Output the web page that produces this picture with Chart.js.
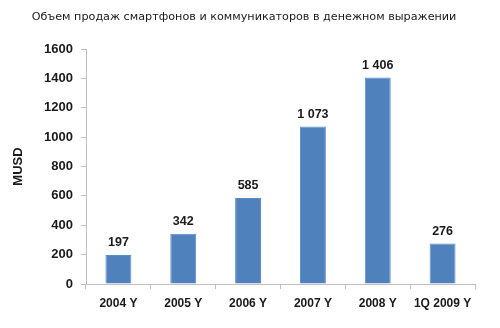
<!DOCTYPE html>
<html>
<head>
<meta charset="utf-8">
<script src="https://cdn.jsdelivr.net/npm/chart.js@4/dist/chart.umd.min.js"></script>
<style>
  html, body { margin: 0; padding: 0; background: #fff; }
  #wrap { width: 500px; height: 328px; }
</style>
</head>
<body>
<div id="wrap"><canvas id="sales-chart" width="500" height="328"></canvas></div>
<script>
// ── Data ──────────────────────────────────────────────
const categories = ['2004 Y', '2005 Y', '2006 Y', '2007 Y', '2008 Y', '1Q 2009 Y'];
const salesMusd  = [197, 342, 585, 1073, 1406, 276];
const yTicks     = [0, 200, 400, 600, 800, 1000, 1200, 1400, 1600];

const titleText = 'Объем продаж смартфонов и коммуникаторов в денежном выражении';
const axisCol   = '#bfbfbf';
const textCol   = '#1a1a1a';
const barCol    = '#4f81bd';
const boldFont  = '"Liberation Sans", Arial, sans-serif';

function formatThousands(v) {
  return String(v).replace(/\B(?=(\d{3})+(?!\d))/g, ' ');
}

// chart title, centred on the whole canvas (the plot is shifted left)
const chartTitle = {
  id: 'chartTitle',
  afterDraw(chart) {
    const ctx = chart.ctx;
    ctx.save();
    ctx.font = '11.2px "DejaVu Sans", Verdana, sans-serif';
    ctx.fillStyle = textCol;
    ctx.textAlign = 'center';
    ctx.textBaseline = 'middle';
    ctx.fillText(titleText, 244, 17);
    ctx.restore();
  }
};

// draws the value above every bar
const valueLabels = {
  id: 'valueLabels',
  afterDatasetsDraw(chart) {
    const ctx = chart.ctx;
    const meta = chart.getDatasetMeta(0);
    ctx.save();
    ctx.font = 'bold 12.5px ' + boldFont;
    ctx.fillStyle = textCol;
    ctx.textAlign = 'center';
    ctx.textBaseline = 'bottom';
    meta.data.forEach(function(bar, i) {
      ctx.fillText(formatThousands(salesMusd[i]), bar.x, bar.y - 6);
    });
    ctx.restore();
  }
};

new Chart(document.getElementById('sales-chart'), {
  type: 'bar',
  data: {
    labels: categories,
    datasets: [{
      data: salesMusd,
      backgroundColor: barCol,
      borderColor: '#5b8cc6',
      borderWidth: 1,
      barPercentage: 0.4,
      categoryPercentage: 1,
    }]
  },
  plugins: [valueLabels, chartTitle],
  options: {
    responsive: false,
    animation: false,
    layout: { padding: { top: 49, left: 0, right: 25, bottom: 0 } },
    plugins: {
      legend: { display: false },
      tooltip: { enabled: false },
      title: { display: false },
    },
    scales: {
      x: {
        grid: { drawOnChartArea: false, drawTicks: true, tickLength: 5, color: axisCol },
        border: { color: axisCol },
        ticks: {
          color: textCol,
          padding: 7,
          maxRotation: 0,
          autoSkip: false,
          font: { family: boldFont, size: 12, weight: 'bold' },
        },
        afterFit: function(scale) { scale.height = 44; },
      },
      y: {
        min: 0,
        max: 1600,
        afterBuildTicks: function(scale) {
          scale.ticks = yTicks.map(function(v) { return { value: v }; });
        },
        grid: { drawOnChartArea: false, drawTicks: true, tickLength: 5, color: axisCol },
        border: { color: axisCol },
        ticks: {
          color: textCol,
          padding: 8,
          callback: function(v) { return String(v); },
          font: { family: boldFont, size: 13, weight: 'bold' },
        },
        title: {
          display: true,
          text: 'MUSD',
          color: textCol,
          padding: { top: 11, bottom: 0 },
          font: { family: boldFont, size: 13, weight: 'bold' },
        },
        afterFit: function(scale) { scale.width = 86; },
      },
    },
  },
});
</script>
</body>
</html>
